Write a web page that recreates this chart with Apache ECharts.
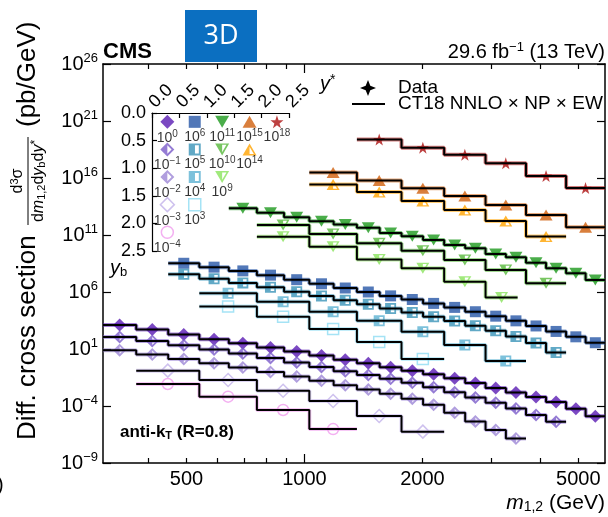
<!DOCTYPE html>
<html>
<head>
<meta charset="utf-8">
<script src="https://cdn.jsdelivr.net/npm/echarts@6.0.0/dist/echarts.min.js"></script>
<style>
html,body{margin:0;padding:0;background:#ffffff;}
#chart{width:608px;height:517px;}
</style>
</head>
<body>
<div id="chart"></div>
<script>
// ---------------- data ----------------
const massEdges = [306,372,449,539,641,756,887,1029,1187,1361,1556,1769,2008,2273,2572,2899,3267,3677,4137,4654,5220,5850];

// yb 0.0-0.5, y* 0.0-0.5  (x 10^0)
const e0 = massEdges;
const v0 = [1.26e3,5.25e2,1.86e2,72,31.6,13.8,6.0,2.63,1.15,0.55,0.251,0.123,0.0603,0.0269,0.0105,3.8e-3,1.51e-3,6.3e-4,2.29e-4,5.6e-5,1.26e-5];
// yb 0.5-1.0, y* 0.0-0.5  (x 10^-1)
const em1 = massEdges.slice(0, 20);
const vm1 = [112,50.1,21.4,9.12,3.98,1.66,0.661,0.269,0.112,0.0525,0.024,0.0107,4.37e-3,1.58e-3,5.62e-4,1.91e-4,6.03e-5,1.66e-5,4.17e-6];
// yb 1.0-1.5, y* 0.0-0.5  (x 10^-2)
const em2 = massEdges.slice(0, 18);
const vm2 = [7.94,3.31,1.32,0.55,0.234,0.0955,0.0389,0.0162,6.6e-3,2.75e-3,1.17e-3,4.37e-4,1.26e-4,2.51e-5,4.47e-6,7.94e-7,1.41e-7];
// yb 1.5-2.0, y* 0.0-0.5  (x 10^-3)
const em3 = [372,539,756,1029,1361,1769,2273];
const vm3 = [0.126,0.019,2.19e-3,2.75e-4,1.32e-5,5.62e-7];
// yb 2.0-2.5, y* 0.0-0.5  (x 10^-4)
const em4 = [372,539,756,1029,1361];
const vm4 = [8.5e-3,6.6e-4,4.47e-5,9.5e-7];
// yb 0.0-0.5, y* 0.5-1.0  (x 10^6)
const e6 = massEdges.slice(2);
const v6 = [3.31e8,1.51e8,7.08e7,3.02e7,1.2e7,5.25e6,2.24e6,1.0e6,4.57e5,2.19e5,1.0e5,4.47e4,1.86e4,7.59e3,2.95e3,1.05e3,347,117,35.5];
// yb 0.5-1.0, y* 0.5-1.0  (x 10^5)
const e5 = massEdges.slice(2, 20);
const v5 = [3.55e7,1.48e7,6.31e6,2.63e6,1.05e6,4.47e5,1.91e5,8.32e4,3.63e4,1.58e4,6.76e3,2.82e3,1.07e3,398,126,33.1,5.0];
// yb 1.0-1.5, y* 0.5-1.0  (x 10^4)
const e4 = [539,756,1029,1361,1769,2273,2899,3677];
const v4 = [7.76e5,1.41e5,1.86e4,3.02e3,331,22.4,0.89];
// yb 1.5-2.0, y* 0.5-1.0  (x 10^3)
const e3 = [539,756,1029,1361,1769,2273];
const v3 = [5.37e4,6.76e3,562,40.7,1.32];
// yb 0.0-0.5, y* 1.0-1.5  (x 10^11)
const e11 = massEdges.slice(4);
const v11 = [2.19e13,9.12e12,3.63e12,1.62e12,8.32e11,4.27e11,1.51e11,7.76e10,3.63e10,1.32e10,6.76e9,2.14e9,1.1e9,3.72e8,1.2e8,4.37e7,1.12e7];
// yb 0.5-1.0, y* 1.0-1.5  (x 10^10)
const e10 = [756,1029,1361,1769,2273,2899,3677,4654];
const v10 = [7.59e11,1.23e11,1.86e10,4.17e9,6.46e8,8.51e7,5.75e6];
// yb 1.0-1.5, y* 1.0-1.5  (x 10^9)
const e9 = [756,1029,1361,1769,2273,2899,3500];
const v9 = [7.08e10,9.33e9,7.08e8,1.2e8,7.94e6,3.31e5];
// yb 0.0-0.5, y* 1.5-2.0  (x 10^15)
const e15 = [1029,1361,1769,2273,2899,3677,4654,5850];
const v15 = [3.02e16,6.03e15,1.26e15,2.63e14,4.27e13,5.62e12,4.79e11];
// yb 0.5-1.0, y* 1.5-2.0  (x 10^14)
const e14 = [1029,1361,1769,2273,2899,3677,4654];
const v14 = [2.69e15,5.89e14,9.55e13,1.55e13,1.7e12,7.41e10];
// yb 0.0-0.5, y* 2.0-2.5  (x 10^18)
const e18 = [1361,1769,2273,2899,3677,4654,5850];
const v18 = [2.4e19,4.57e18,1.1e18,1.95e17,1.51e16,1.32e15];

// axis ticks / labels
const xLabelValues = [500, 1000, 2000, 5000];
const xMinorTicks = [400, 500, 600, 700, 800, 900, 2000, 3000, 4000, 5000];
const xMajorTicks = [1000];
const yTickValues = [1e-9, 1e-4, 1e1, 1e6, 1e11, 1e16, 1e21, 1e26];

// ---------------- styles ----------------
const FF = '"Liberation Sans", Arimo, Helvetica, Arial, sans-serif';
const SYM = {
  halfDiamond: 'path://M50,0L100,50L50,100L0,50Z M50,19.8L50,80.2L80.2,50Z',
  halfRect: 'path://M0,0L100,0L100,100L0,100Z M52,16L52,84L84,84L84,16Z',
  halfDown: 'path://M0,0L100,0L50,100Z M50,12L50,73.2L80.6,12Z',
  halfUp: 'path://M50,0L100,100L0,100Z M50,26.8L50,88L80.6,88Z',
  star: 'path://M50,0L61.8,35.1L97.6,35.1L68.8,56.8L79.4,90.9L50,69.5L20.6,90.9L31.2,56.8L2.4,35.1L38.2,35.1Z'
};

// exponent label, y* bin, yb bin, edges, values, style
const entries = [
  {exp:'0',  ys:0, yb:0, edges:e0,  vals:v0,  color:'#5a1bb3', symbol:'diamond', size:13, fill:'solid'},
  {exp:'−1', ys:0, yb:1, edges:em1, vals:vm1, color:'#7b5bc9', symbol:SYM.halfDiamond, size:13, fill:'solid'},
  {exp:'−2', ys:0, yb:2, edges:em2, vals:vm2, color:'#9c86d6', symbol:SYM.halfDiamond, size:13, fill:'solid'},
  {exp:'−3', ys:0, yb:3, edges:em3, vals:vm3, color:'#c2b2ea', symbol:'diamond', size:13, fill:'open'},
  {exp:'−4', ys:0, yb:4, edges:em4, vals:vm4, color:'#f09cee', symbol:'circle', size:11, fill:'open'},
  {exp:'6',  ys:1, yb:0, edges:e6,  vals:v6,  color:'#2756a6', symbol:'rect', size:11, fill:'solid'},
  {exp:'5',  ys:1, yb:1, edges:e5,  vals:v5,  color:'#3a94b8', symbol:SYM.halfRect, size:11, fill:'solid'},
  {exp:'4',  ys:1, yb:2, edges:e4,  vals:v4,  color:'#5cb2d2', symbol:SYM.halfRect, size:11, fill:'solid'},
  {exp:'3',  ys:1, yb:3, edges:e3,  vals:v3,  color:'#8fdcf2', symbol:'rect', size:11, fill:'open'},
  {exp:'11', ys:2, yb:0, edges:e11, vals:v11, color:'#1d991d', symbol:'triangle', rot:180, size:[13,11], fill:'solid'},
  {exp:'10', ys:2, yb:1, edges:e10, vals:v10, color:'#56b83b', symbol:SYM.halfDown, size:[13,11], fill:'solid'},
  {exp:'9',  ys:2, yb:2, edges:e9,  vals:v9,  color:'#8ae35c', symbol:SYM.halfDown, size:[13,11], fill:'solid'},
  {exp:'15', ys:3, yb:0, edges:e15, vals:v15, color:'#cf5f0c', symbol:'triangle', size:[13,11], fill:'solid'},
  {exp:'14', ys:3, yb:1, edges:e14, vals:v14, color:'#ffa200', symbol:SYM.halfUp, size:[13,11], fill:'solid'},
  {exp:'18', ys:4, yb:0, edges:e18, vals:v18, color:'#ad1212', symbol:SYM.star, size:12, fill:'solid'}
];

function itemStyleOf(en) {
  return en.fill === 'open'
    ? {color:'rgba(255,255,255,0)', borderColor:en.color, borderWidth:1.5}
    : {color:en.color};
}

const series = [];
entries.forEach(en => {
  const step = en.vals.map((v, i) => [en.edges[i], v]);
  step.push([en.edges[en.edges.length - 1], en.vals[en.vals.length - 1]]);
  const pts = en.vals.map((v, i) => [Math.sqrt(en.edges[i] * en.edges[i + 1]), v]);
  series.push({type:'line', step:'end', data:step, symbol:'none', silent:true, z:2,
    lineStyle:{color:en.color, width:4, opacity:0.55}});
  series.push({type:'scatter', data:pts, symbol:en.symbol, symbolSize:en.size, symbolRotate:en.rot || 0,
    itemStyle:itemStyleOf(en), silent:true, z:3});
  series.push({type:'line', step:'end', data:step, symbol:'none', silent:true, z:4,
    lineStyle:{color:'#000', width:2}});
});

// inset key
series.push({
  type:'scatter', xAxisIndex:4, yAxisIndex:2, silent:true, z:5,
  data: entries.map(en => ({
    value:[0.25 + 0.5 * en.ys + 0.03, 0.5 * en.yb + 0.16],
    symbol:en.symbol,
    symbolSize: Array.isArray(en.size) ? [en.size[0] + 1, en.size[1] + 1] : en.size + 1,
    symbolRotate: en.rot || 0,
    itemStyle:itemStyleOf(en),
    label:{formatter:'{b|10}{s|' + en.exp + '}'}
  })),
  label:{show:true, position:'bottom', distance:0,
    rich:{b:{fontSize:14, fontFamily:FF, color:'#000'},
          s:{fontSize:10, fontFamily:FF, color:'#000', padding:[0,0,8,0]}}}
});

function supExp(n) { return n < 0 ? '−' + (-n) : String(n); }

const axisLine = {show:true, onZero:false, lineStyle:{color:'#000', width:1.5}};
const tickStyle = {color:'#000', width:1.2};

const option = {
  animation:false,
  backgroundColor:'#ffffff',
  grid:[
    {left:103, right:3, top:64, bottom:54, containLabel:false, outerBoundsMode:'none'},
    {left:152, top:113, width:137, height:138, containLabel:false, outerBoundsMode:'none'}
  ],
  xAxis:[
    {type:'log', gridIndex:0, min:306, max:5850, position:'bottom', axisLine:axisLine,
     axisTick:{show:true, inside:true, length:5, customValues:xMinorTicks, lineStyle:tickStyle},
     axisLabel:{show:true, customValues:xLabelValues, fontSize:20, fontFamily:FF, color:'#000', margin:6,
                formatter:v => String(Math.round(v))},
     splitLine:{show:false}, minorTick:{show:false}},
    {type:'log', gridIndex:0, min:306, max:5850, position:'top', axisLine:axisLine,
     axisTick:{show:true, inside:true, length:5, customValues:xMinorTicks, lineStyle:tickStyle},
     axisLabel:{show:false}, splitLine:{show:false}},
    {type:'log', gridIndex:0, min:306, max:5850, position:'bottom', axisLine:{show:false},
     axisTick:{show:true, inside:true, length:9, customValues:xMajorTicks, lineStyle:tickStyle},
     axisLabel:{show:false}, splitLine:{show:false}},
    {type:'log', gridIndex:0, min:306, max:5850, position:'top', axisLine:{show:false},
     axisTick:{show:true, inside:true, length:9, customValues:xMajorTicks, lineStyle:tickStyle},
     axisLabel:{show:false}, splitLine:{show:false}},
    {type:'value', gridIndex:1, min:0, max:2.5, interval:0.5, position:'top',
     axisLine:{show:true, onZero:false, lineStyle:{color:'#000', width:1.2}},
     axisTick:{show:true, inside:true, length:5, lineStyle:tickStyle},
     axisLabel:{show:true, rotate:-45, fontSize:18, fontFamily:FF, color:'#000', margin:8,
                align:'left', verticalAlign:'middle',
                formatter:v => v.toFixed(1)},
     splitLine:{show:false}}
  ],
  yAxis:[
    {type:'log', gridIndex:0, min:0.999e-9, max:1.001e26, position:'left', axisLine:axisLine,
     axisTick:{show:true, inside:true, length:8, customValues:yTickValues, lineStyle:tickStyle},
     axisLabel:{show:true, customValues:yTickValues, margin:5,
       formatter:v => '{b|10}{s|' + supExp(Math.round(Math.log10(v))) + '}',
       rich:{b:{fontSize:20, fontFamily:FF, color:'#000'},
             s:{fontSize:13, fontFamily:FF, color:'#000', padding:[0,0,11,0]}}},
     splitLine:{show:false}, minorTick:{show:false}},
    {type:'log', gridIndex:0, min:0.999e-9, max:1.001e26, position:'right', axisLine:axisLine,
     axisTick:{show:true, inside:true, length:8, customValues:yTickValues, lineStyle:tickStyle},
     axisLabel:{show:false}, splitLine:{show:false}},
    {type:'value', gridIndex:1, min:0, max:2.5, interval:0.5, inverse:true, position:'left',
     axisLine:{show:true, onZero:false, lineStyle:{color:'#000', width:1.2}},
     axisTick:{show:true, inside:true, length:5, lineStyle:tickStyle},
     axisLabel:{show:true, fontSize:18, fontFamily:FF, color:'#000', margin:6,
                formatter:v => v.toFixed(1)},
     splitLine:{show:false}}
  ],
  series: series,
  graphic:[
    {type:'text', x:103, y:52, z:10, style:{text:'CMS', fontSize:22, fontWeight:'bold', fontFamily:FF, fill:'#000',
      align:'left', verticalAlign:'middle', textAlign:'left', textVerticalAlign:'middle'}},
    {type:'text', x:605, y:52, z:10, style:{text:'{n|29.6 fb}{s|−1}{n| (13 TeV)}', fill:'#000',
      align:'right', verticalAlign:'middle', textAlign:'right', textVerticalAlign:'middle',
      rich:{n:{fontSize:20, fontFamily:FF, color:'#000'}, s:{fontSize:13, fontFamily:FF, color:'#000', padding:[0,0,10,0]}}}},
    {type:'rect', z:20, shape:{x:185, y:10, width:72, height:52}, style:{fill:'#0b6fc1'}},
    {type:'text', x:221, y:36, z:21, style:{text:'3D', fontSize:27, fontFamily:'"Open Sans","Noto Sans",sans-serif', fill:'#ffffff',
      align:'center', verticalAlign:'middle', textAlign:'center', textVerticalAlign:'middle'}},
    // legend
    {type:'polygon', x:368, y:88, z:10, shape:{points:[[0,-8],[2.3,-2.3],[8,0],[2.3,2.3],[0,8],[-2.3,2.3],[-8,0],[-2.3,-2.3]]}, style:{fill:'#000'}},
    {type:'text', x:398, y:88, z:10, style:{text:'Data', fontSize:19, fontFamily:FF, fill:'#000',
      align:'left', verticalAlign:'middle', textAlign:'left', textVerticalAlign:'middle'}},
    {type:'line', z:10, shape:{x1:352, y1:104, x2:385, y2:104}, style:{stroke:'#000', lineWidth:2}},
    {type:'text', x:398, y:104, z:10, style:{text:'CT18 NNLO × NP × EW', fontSize:19, fontFamily:FF, fill:'#000',
      align:'left', verticalAlign:'middle', textAlign:'left', textVerticalAlign:'middle'}},
    // inset titles
    {type:'text', x:320, y:84, z:10, style:{text:'{i|y}{p|*}', fill:'#000', align:'left', verticalAlign:'middle', textAlign:'left', textVerticalAlign:'middle',
      rich:{i:{fontSize:20, fontStyle:'italic', fontFamily:FF, color:'#000'}, p:{fontSize:14, fontFamily:FF, color:'#000', padding:[0,0,8,0]}}}},
    {type:'text', x:110, y:268, z:10, style:{text:'{i|y}{s|b}', fill:'#000', align:'left', verticalAlign:'middle', textAlign:'left', textVerticalAlign:'middle',
      rich:{i:{fontSize:20, fontStyle:'italic', fontFamily:FF, color:'#000'}, s:{fontSize:13, fontFamily:FF, color:'#000', padding:[8,0,0,0]}}}},
    // anti-kT
    {type:'text', x:120, y:432, z:10, style:{text:'{b|anti-k}{s|T}{b| (R=0.8)}', fill:'#000', align:'left', verticalAlign:'middle', textAlign:'left', textVerticalAlign:'middle',
      rich:{b:{fontSize:17, fontWeight:'bold', fontFamily:FF, color:'#000'}, s:{fontSize:11, fontWeight:'bold', fontFamily:FF, color:'#000', padding:[7,0,0,0]}}}},
    // x title
    {type:'text', x:605, y:503, z:10, style:{text:'{i|m}{s|1,2}{n| (GeV)}', fill:'#000', align:'right', verticalAlign:'middle', textAlign:'right', textVerticalAlign:'middle',
      rich:{i:{fontSize:21, fontStyle:'italic', fontFamily:FF, color:'#000'}, s:{fontSize:14, fontFamily:FF, color:'#000', padding:[8,0,0,0]},
            n:{fontSize:21, fontFamily:FF, color:'#000'}}}},
    {type:'text', x:-3, y:485, z:10, style:{text:')', fontSize:20, fontFamily:FF, fill:'#000', align:'left', verticalAlign:'middle', textAlign:'left', textVerticalAlign:'middle'}},
    // y title (rotated)
    {type:'group', x:28, y:440, rotation:Math.PI / 2, z:10, children:[
      {type:'text', x:0, y:0, style:{text:'Diff. cross section', fontSize:26, fontFamily:FF, fill:'#000',
        align:'left', verticalAlign:'middle', textAlign:'left', textVerticalAlign:'middle'}},
      {type:'text', x:259, y:-10, style:{text:'{n|d}{p|3}{n|σ}', fill:'#000', align:'center', verticalAlign:'middle', textAlign:'center', textVerticalAlign:'middle',
        rich:{n:{fontSize:16, fontFamily:FF, color:'#000'}, p:{fontSize:11, fontFamily:FF, color:'#000', padding:[0,0,6,0]}}}},
      {type:'line', shape:{x1:215, y1:0, x2:303, y2:0}, style:{stroke:'#000', lineWidth:1}},
      {type:'text', x:259, y:11, style:{text:'{n|d}{i|m}{s|1,2}{n|d}{i|y}{s|b}{n|d}{i|y}{p|*}', fill:'#000', align:'center', verticalAlign:'middle', textAlign:'center', textVerticalAlign:'middle',
        rich:{n:{fontSize:16, fontFamily:FF, color:'#000'}, i:{fontSize:16, fontStyle:'italic', fontFamily:FF, color:'#000'},
              s:{fontSize:11, fontFamily:FF, color:'#000', padding:[5,0,0,0]}, p:{fontSize:12, fontFamily:FF, color:'#000', padding:[0,0,6,0]}}}},
      {type:'text', x:313, y:0, style:{text:'(pb/GeV)', fontSize:26, fontFamily:FF, fill:'#000',
        align:'left', verticalAlign:'middle', textAlign:'left', textVerticalAlign:'middle'}}
    ]}
  ]
};

const chart = echarts.init(document.getElementById('chart'), null, {renderer:'canvas'});
chart.setOption(option);
</script>
</body>
</html>
